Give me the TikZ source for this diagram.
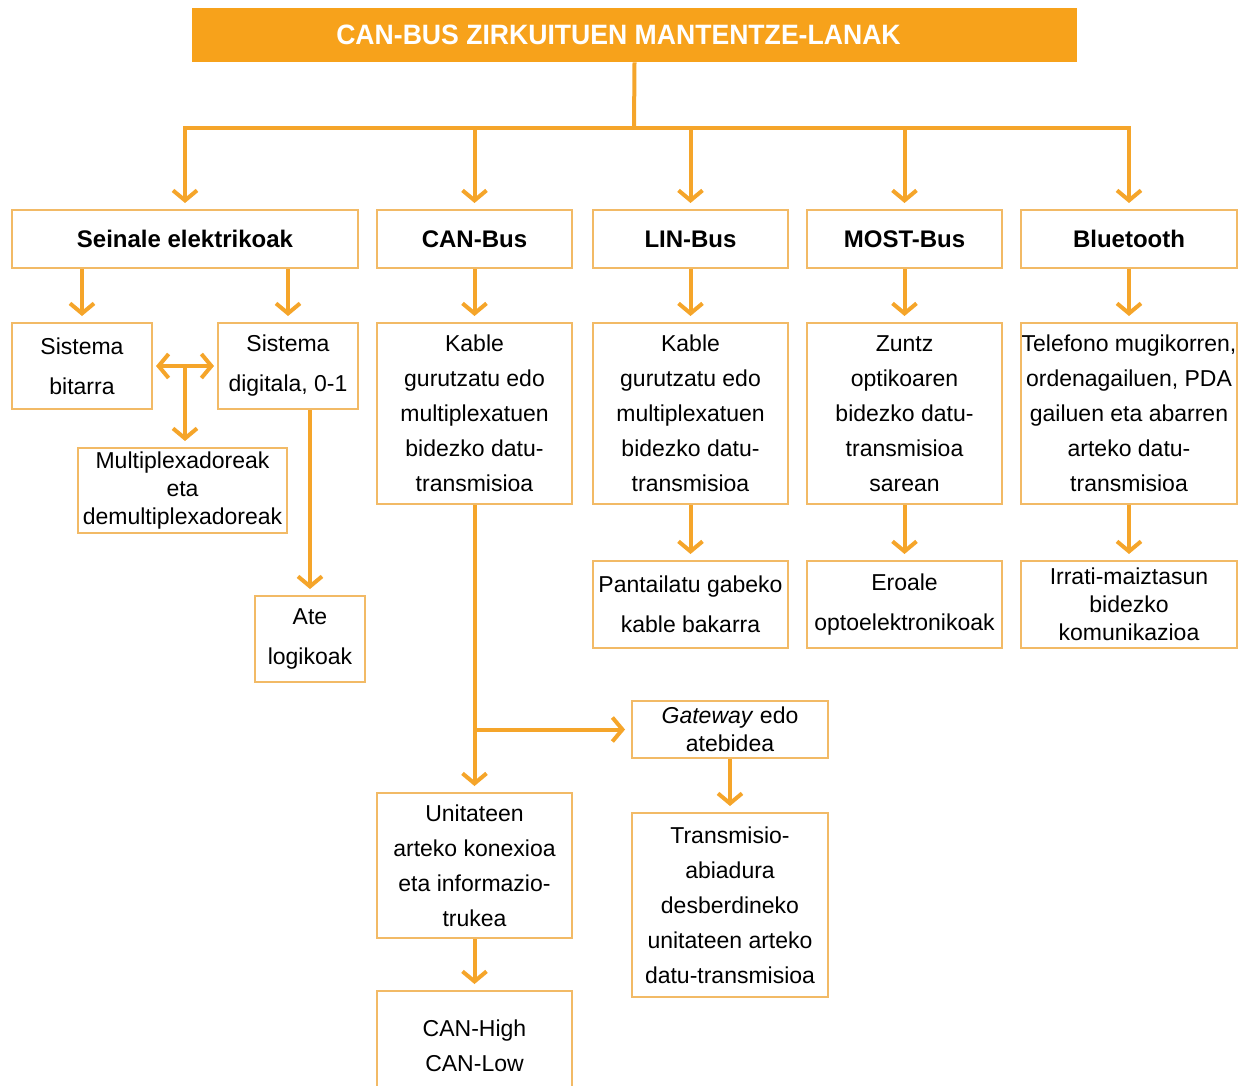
\documentclass[tikz,border=0pt]{standalone}
\usepackage{fontspec}
\setmainfont{Liberation Sans}
\newfontfamily\titlefont[FakeStretch=0.95]{Liberation Sans}
\usetikzlibrary{arrows.meta,calc}
\definecolor{ora}{HTML}{F7A21B}
\definecolor{oline}{HTML}{F5A52A}
\definecolor{obox}{HTML}{F2BA66}

\begin{document}
\begin{tikzpicture}[x=0.5pt,y=-0.5pt,
  box/.style={draw=obox,line width=1pt,fill=white,align=center,inner sep=0pt,
    minimum width=97.5pt,font=\fontsize{11.5}{17.5}\selectfont},
  boxw/.style={box,font=\fontsize{11.5}{20}\selectfont},
  boxn/.style={box,font=\fontsize{11.5}{14}\selectfont},
  head/.style={box,font=\fontsize{12}{14}\selectfont\bfseries,minimum height=29pt},
  ln/.style={draw=oline,line width=2pt},
  arr/.style={ln,-{Straight Barb[length=5pt,width=12pt]},shorten >=3pt},
  arrs/.style={ln,{Straight Barb[length=5pt,width=12pt]}-{Straight Barb[length=5pt,width=12pt]},
    shorten >=1.5pt,shorten <=1.5pt}]
  \useasboundingbox (0,0) rectangle (1247,1086);
  \node[fill=ora,minimum width=442.5pt,minimum height=27pt,text=white,
    font=\titlefont\fontsize{14}{16}\selectfont\bfseries] (title) at (634.5,35)
    {CAN-BUS ZIRKUITUEN MANTENTZE-LANAK\rule{16pt}{0pt}};
  \coordinate (bus) at (634,128);
  % lehen maila
  \node[head,minimum width=173pt] (seinale) at (185,239) {Seinale elektrikoak};
  \node[head] (canbus) at (474.5,239) {CAN-Bus};
  \node[head] (linbus) at (690.5,239) {LIN-Bus};
  \node[head] (mostbus) at (904.5,239) {MOST-Bus};
  \node[head,minimum width=108pt] (bluetooth) at (1129,239) {Bluetooth};
  \draw[ln] (title.south) -- (bus);
  \foreach \n in {seinale,canbus,linbus,mostbus,bluetooth}
    \draw[arr] (bus) -| (\n.north);
  % seinaleak
  \node[boxw,minimum width=70pt,minimum height=43pt] (bitarra) at (82,366) {Sistema\\bitarra};
  \node[boxw,minimum width=70pt,minimum height=43pt] (digitala) at (288,366) {Sistema\\digitala, 0-1};
  \node[boxn,minimum width=104.5pt,minimum height=42.5pt] (multiplex) at (182.5,490.5)
    {Multiplexadoreak\\eta\\demultiplexadoreak};
  \node[boxw,minimum width=55pt,minimum height=43pt] (ate) at (310,639) {Ate\\logikoak};
  \draw[arr] (bitarra.north |- seinale.south) -- (bitarra.north);
  \draw[arr] (digitala.north |- seinale.south) -- (digitala.north);
  \draw[arrs] (bitarra.east) -- (digitala.west);
  \coordinate (mid) at ($(bitarra.east)!0.5!(digitala.west)$);
  \draw[arr] (mid) -- (mid |- multiplex.north);
  \draw[arr] (ate.north |- digitala.south) -- (ate.north);
  % busak
  \node[box,minimum height=90.5pt] (kablecan) at (474.5,413.5)
    {Kable\\gurutzatu edo\\multiplexatuen\\bidezko datu-\\transmisioa};
  \node[box,minimum height=90.5pt] (kablelin) at (690.5,413.5)
    {Kable\\gurutzatu edo\\multiplexatuen\\bidezko datu-\\transmisioa};
  \node[box,minimum height=90.5pt] (zuntz) at (904.5,413.5)
    {Zuntz\\optikoaren\\bidezko datu-\\transmisioa\\sarean};
  \node[box,minimum width=108pt,minimum height=90.5pt,inner xsep=-3pt] (telefono) at (1129,413.5)
    {Telefono mugikorren,\\ordenagailuen, PDA\\gailuen eta abarren\\arteko datu-\\transmisioa};
  \draw[arr] (canbus.south) -- (kablecan.north);
  \draw[arr] (linbus.south) -- (kablelin.north);
  \draw[arr] (mostbus.south) -- (zuntz.north);
  \draw[arr] (bluetooth.south) -- (telefono.north);
  \node[boxw,minimum height=43.5pt] (pantaila) at (690.5,604.5) {Pantailatu gabeko\\kable bakarra};
  \node[boxw,minimum height=43.5pt] (eroale) at (904.5,604.5) {Eroale\\optoelektronikoak};
  \node[boxn,minimum width=108pt,minimum height=43.5pt] (irrati) at (1129,604.5)
    {Irrati-maiztasun\\bidezko\\komunikazioa};
  \draw[arr] (kablelin.south) -- (pantaila.north);
  \draw[arr] (zuntz.south) -- (eroale.north);
  \draw[arr] (telefono.south) -- (irrati.north);
  % CAN adarra
  \node[boxn,minimum width=98pt,minimum height=28.5pt] (gateway) at (730,729.5)
    {\textit{Gateway} edo\\atebidea};
  \node[box,minimum width=98pt,minimum height=92pt] (abiadura) at (730,905)
    {Transmisio-\\abiadura\\desberdineko\\unitateen arteko\\datu-transmisioa};
  \node[box,minimum height=72.5pt] (unitate) at (474.5,865.5)
    {Unitateen\\arteko konexioa\\eta informazio-\\trukea};
  \node[box,minimum height=54.5pt] (canhl) at (474.5,1045.5) {CAN-High\\CAN-Low};
  \draw[arr] (kablecan.south) -- (unitate.north);
  \draw[arr] (kablecan.south |- gateway.west) -- (gateway.west);
  \draw[arr] (gateway.south) -- (abiadura.north);
  \draw[arr] (unitate.south) -- (canhl.north);
\end{tikzpicture}
\end{document}
